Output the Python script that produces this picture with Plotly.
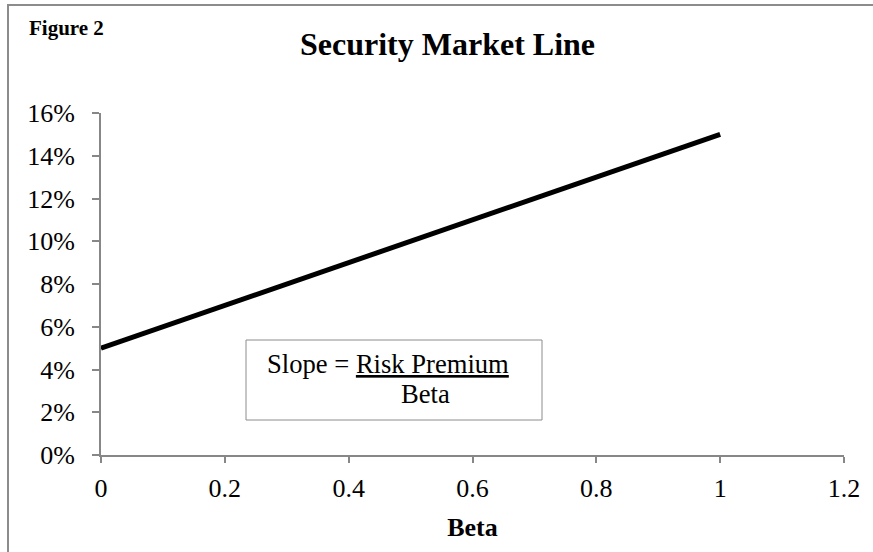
import plotly.graph_objects as go

# Data
beta = [0, 1]
expected_return = [0.05, 0.15]
y_ticks = [0, 0.02, 0.04, 0.06, 0.08, 0.10, 0.12, 0.14, 0.16]
x_ticks = [0, 0.2, 0.4, 0.6, 0.8, 1.0, 1.2]
x_tick_labels = ["0", "0.2", "0.4", "0.6", "0.8", "1", "1.2"]

W, H = 873, 552
L, R, T, B = 101, 29, 113, 97
PW, PH = W - L - R, H - T - B

def px(x):
    return (x - L) / PW

def py(y):
    return (H - B - y) / PH

FONT = "Liberation Serif, Times New Roman, serif"
GREY = "#878787"

fig = go.Figure()
fig.add_trace(go.Scatter(
    x=beta, y=expected_return, mode="lines",
    line=dict(color="black", width=5),
    showlegend=False, hoverinfo="skip",
))

fig.update_layout(
    width=W, height=H,
    margin=dict(l=L, r=R, t=T, b=B, autoexpand=False),
    paper_bgcolor="white", plot_bgcolor="white",
    font=dict(family=FONT, color="black", size=26),
    xaxis=dict(
        range=[0, 1.2], tickvals=x_ticks, ticktext=x_tick_labels,
        showgrid=False, zeroline=False, showline=True,
        linecolor=GREY, linewidth=2,
        ticks="outside", ticklen=6, tickwidth=2, tickcolor=GREY,
        tickfont=dict(family=FONT, size=26, color="black"),
        ticklabelstandoff=3,
        title=dict(text="<b>Beta</b>", font=dict(family=FONT, size=26, color="black"), standoff=16),
    ),
    yaxis=dict(
        range=[0, 0.16], tickvals=y_ticks, tickformat=".0%",
        showgrid=False, zeroline=False, showline=True,
        linecolor=GREY, linewidth=2,
        ticks="outside", ticklen=7, tickwidth=2, tickcolor=GREY,
        tickfont=dict(family=FONT, size=26, color="black"),
        ticklabelstandoff=12,
    ),
)

# Outer chart border (right/bottom edges extend past the page)
fig.add_shape(type="rect", xref="paper", yref="paper",
              x0=px(8), x1=px(W + 20), y0=py(H + 20), y1=py(5),
              line=dict(color="#8c8c8c", width=2), fillcolor="rgba(0,0,0,0)", layer="below")

# Text box
fig.add_shape(type="rect", xref="paper", yref="paper",
              x0=px(246), x1=px(542), y0=py(420), y1=py(340),
              line=dict(color="#8c8c8c", width=1), fillcolor="white")

fig.add_annotation(xref="paper", yref="paper", x=px(265), y=py(364),
                   xanchor="left", yanchor="middle", showarrow=False,
                   text="Slope = <u>Risk Premium</u>",
                   font=dict(family=FONT, size=26.6, color="black"))
fig.add_annotation(xref="paper", yref="paper", x=px(399), y=py(394),
                   xanchor="left", yanchor="middle", showarrow=False,
                   text="Beta",
                   font=dict(family=FONT, size=26.6, color="black"))

# Titles
fig.add_annotation(xref="paper", yref="paper", x=px(447.5), y=py(44),
                   xanchor="center", yanchor="middle", showarrow=False,
                   text="<b>Security Market Line</b>",
                   font=dict(family=FONT, size=32, color="black"))
fig.add_annotation(xref="paper", yref="paper", x=px(27), y=py(28),
                   xanchor="left", yanchor="middle", showarrow=False,
                   text="<b>Figure 2</b>",
                   font=dict(family=FONT, size=21, color="black"))

fig.write_html("out.html")
